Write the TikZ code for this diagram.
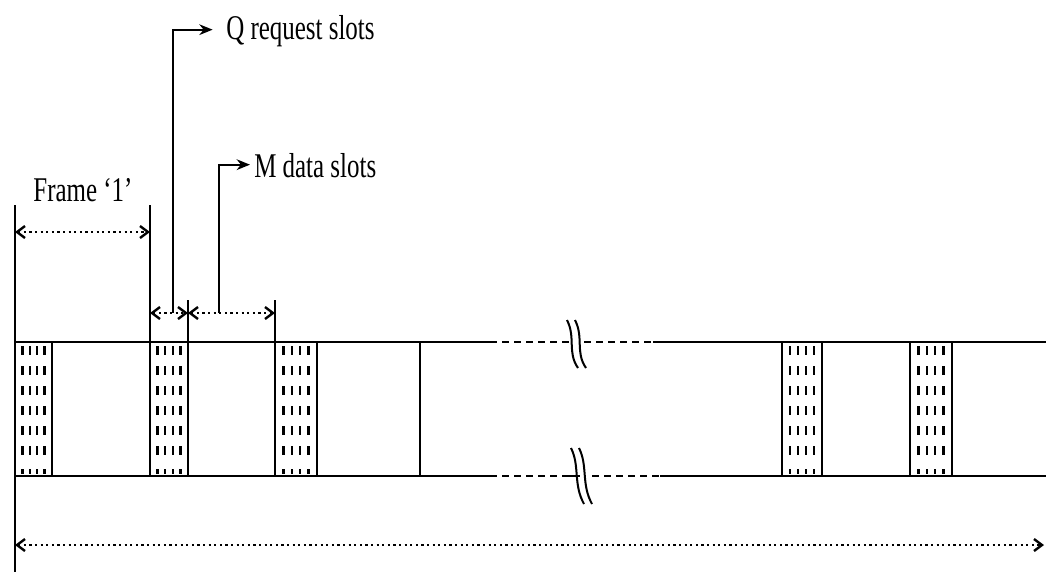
\documentclass[tikz,border=0pt]{standalone}
\usepackage{fontspec}
\setmainfont{Liberation Serif}[FakeStretch=0.72]
\usetikzlibrary{arrows.meta}
\begin{document}
\begin{tikzpicture}[x=0.75pt,y=-0.75pt,
  boxline/.style={line width=2pt},
  vline/.style={line width=1.5pt},
  dimarrow/.style={line width=1.6pt,dash pattern=on 1.6pt off 2.6pt,{Straight Barb[length=6pt,width=9pt,line width=1.8pt]}-{Straight Barb[length=6pt,width=9pt,line width=1.8pt]}},
  leader/.style={line width=1.5pt,-{Stealth[length=10pt,width=8pt]}},
  lbl/.style={font=\fontsize{26}{29}\selectfont,inner sep=0pt},
  hatch/.style={line width=1.7pt},
  brk/.style={line width=1.5pt}]
\useasboundingbox (0,0) rectangle (1046,572);

% key coordinates
\coordinate (L0) at (15,205);
\coordinate (L1) at (15,572);
\coordinate (F0) at (150,205);
\coordinate (F1) at (150,476);
\coordinate (Q0) at (188,300);
\coordinate (Q1) at (188,342);
\coordinate (M0) at (275,300);
\coordinate (M1) at (275,342);

% left and frame verticals
\draw[vline] (L0) -- (L1);
\draw[vline] (F0) -- (F1);
\draw[vline] (Q0) -- (Q1);
\draw[vline] (M0) -- (M1);

% slots
\foreach \a/\b in {15/52,150/188,275/317,782/822,910/952}{
  \draw[vline] (\a,342) -- (\a,476);
  \draw[vline] (\b,342) -- (\b,476);
  \pgfmathsetmacro{\w}{(\b-\a)/5}
  \foreach \k in {1,2,3,4}{
    \pgfmathsetmacro{\xx}{\a+\k*\w}
    \foreach \yy in {346,366,386,406,426,446}{
      \draw[hatch] (\xx,\yy) -- (\xx,\yy+9);
    }
    \draw[hatch] (\xx,469) -- (\xx,474);
  }
}
\draw[vline] (420,342) -- (420,476);

% top line
\draw[boxline] (15,342) -- (490,342);
\draw[boxline,dash pattern=on 5pt off 4pt] (490,342) -- (572,342);
\draw[boxline,dash pattern=on 5pt off 4pt] (584,342) -- (653,342);
\draw[boxline] (653,342) -- (1046,342);
% bottom line
\draw[boxline] (15,476) -- (490,476);
\draw[boxline,dash pattern=on 5pt off 4pt] (490,476) -- (563,476);
\draw[boxline] (563,476) -- (580,476);
\draw[boxline,dash pattern=on 5pt off 4pt] (592,476) -- (660,476);
\draw[boxline] (660,476) -- (1046,476);

% break marks
\draw[brk] (567,320) .. controls (576,338) and (567,352) .. (578,368);
\draw[brk] (575,320) .. controls (584,338) and (575,352) .. (586,368);
\draw[brk] (571,448) .. controls (580,466) and (573,484) .. (584,504);
\draw[brk] (579,448) .. controls (588,466) and (581,484) .. (592,504);

% dimension arrows
\coordinate (fa) at (15,232);
\coordinate (fb) at (150,232);
\draw[dimarrow] (fa) -- (fb);
\coordinate (qa) at (150,313);
\coordinate (qb) at (188,313);
\coordinate (ma) at (188,313);
\coordinate (mb) at (275,313);
\draw[dimarrow] (qa) -- (qb);
\draw[dimarrow] (ma) -- (mb);
\coordinate (ba) at (15,545);
\coordinate (bb) at (1044,545);
\draw[dimarrow] (ba) -- (bb);

% labels
\node[lbl,anchor=base] (frame) at (83,201) {Frame ‘1’};
\node[lbl,anchor=west] (qtext) at (226,31) {Q request slots};
\node[lbl,anchor=west] (mtext) at (254,166) {M data slots};

% leaders
\coordinate (qfoot) at (173,313);
\coordinate (mfoot) at (219,313);
\draw[leader] (qfoot) |- ([xshift=-10pt,yshift=1pt]qtext.west);
\draw[leader] (mfoot) |- ([xshift=-3pt,yshift=1pt]mtext.west);
\end{tikzpicture}
\end{document}
